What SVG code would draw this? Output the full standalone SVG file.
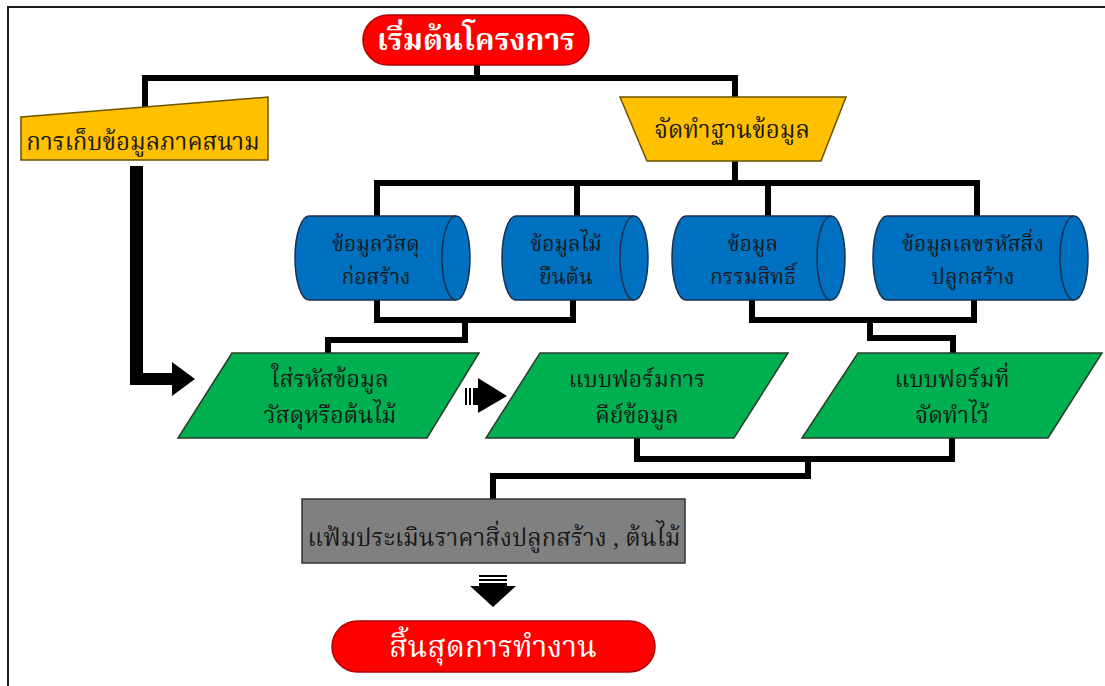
<svg xmlns="http://www.w3.org/2000/svg" width="1105" height="686" viewBox="0 0 1105 686">
<style>
  .t { font-family: "Noto Serif Thai", "Noto Sans Thai", "Liberation Serif", "DejaVu Serif", serif; text-anchor: middle; fill: #1a1a1a; font-size: 24px; }
  .c { font-size: 21px; }
  .p { font-size: 23px; }
  .w { fill: #ffffff; }
  .term { fill: #ff0000; stroke: #b00000; stroke-width: 1.5; }
  .yel { fill: #ffc000; stroke: #6b5300; stroke-width: 1.5; }
  .cyl { fill: #0070c0; stroke: #1c2f4f; stroke-width: 1.5; }
  .cap { fill: none; stroke: #1c2f4f; stroke-width: 1.5; }
  .grn { fill: #00b050; stroke: #2b3b2b; stroke-width: 1.5; }
  .gry { fill: #808080; stroke: #333333; stroke-width: 1.5; }
  .conn path { fill: none; stroke: #000000; stroke-width: 6; stroke-linejoin: miter; stroke-linecap: square; }
  .arr { fill: #000000; }
</style>
<rect width="1105" height="686" fill="#ffffff"/>
<rect x="8" y="7" width="1110" height="700" fill="none" stroke="#1a1a1a" stroke-width="2"/>

<g id="connectors" class="conn">
  <path d="M477 65 V78"/>
  <path d="M145 106 V78 H735 V97"/>
  <path d="M735 161 V183"/>
  <path d="M377 216 V183 H977 V216"/>
  <path d="M577 183 V216"/>
  <path d="M768 183 V216"/>
  <path d="M377 300 V320 H573 V300"/>
  <path d="M465 320 V340 H328 V353"/>
  <path d="M752 300 V320 H974 V300"/>
  <path d="M870 320 V338 H953 V353"/>
  <path d="M637 438 V459 H952 V438"/>
  <path d="M808 459 V476 H493 V499"/>
</g>

<g id="arrows" class="arr">
  <path d="M130 166 H143 V373 H172 V362 L195 379 L172 396 V385 H130 Z"/>
  <rect x="465" y="388" width="2" height="17"/>
  <rect x="469" y="388" width="2" height="17"/>
  <rect x="473" y="388" width="6" height="17"/>
  <polygon points="478,378 507,396 478,413"/>
  <rect x="479" y="575" width="28" height="2"/>
  <rect x="479" y="579" width="28" height="2"/>
  <rect x="479" y="583" width="28" height="4"/>
  <polygon points="470,586 516,586 493,607"/>
</g>

<g id="start">
  <rect class="term" x="363" y="15" width="226" height="50" rx="25"/>
  <text class="t w" x="476" y="50" style="font-size:30px;font-weight:bold">เริ่มต้นโครงการ</text>
</g>

<g id="field">
  <polygon class="yel" points="21,117 268,97 268,160 21,160"/>
  <text class="t" x="143" y="150">การเก็บข้อมูลภาคสนาม</text>
</g>

<g id="database">
  <polygon class="yel" points="620,97 846,97 821,161 647,161"/>
  <text class="t" x="732" y="138">จัดทำฐานข้อมูล</text>
</g>

<g id="cyl1">
  <path class="cyl" d="M309 216 H456 A14 42 0 0 1 456 300 H309 A14 42 0 0 1 309 216 Z"/>
  <path class="cap" d="M456 216 A14 42 0 0 0 456 300"/>
  <text class="t c" x="376" y="251">ข้อมูลวัสดุ</text>
  <text class="t c" x="376" y="284">ก่อสร้าง</text>
</g>

<g id="cyl2">
  <path class="cyl" d="M516 216 H634 A14 42 0 0 1 634 300 H516 A14 42 0 0 1 516 216 Z"/>
  <path class="cap" d="M634 216 A14 42 0 0 0 634 300"/>
  <text class="t c" x="566" y="251">ข้อมูลไม้</text>
  <text class="t c" x="566" y="284">ยืนต้น</text>
</g>

<g id="cyl3">
  <path class="cyl" d="M686 216 H831 A14 42 0 0 1 831 300 H686 A14 42 0 0 1 686 216 Z"/>
  <path class="cap" d="M831 216 A14 42 0 0 0 831 300"/>
  <text class="t c" x="753" y="251">ข้อมูล</text>
  <text class="t c" x="753" y="284">กรรมสิทธิ์</text>
</g>

<g id="cyl4">
  <path class="cyl" d="M887 216 H1074 A14 42 0 0 1 1074 300 H887 A14 42 0 0 1 887 216 Z"/>
  <path class="cap" d="M1074 216 A14 42 0 0 0 1074 300"/>
  <text class="t c" x="973" y="251">ข้อมูลเลขรหัสสิ่ง</text>
  <text class="t c" x="973" y="284">ปลูกสร้าง</text>
</g>

<g id="encode">
  <polygon class="grn" points="232,353 479,353 427,438 178,438"/>
  <text class="t p" x="330" y="387">ใส่รหัสข้อมูล</text>
  <text class="t p" x="330" y="423">วัสดุหรือต้นไม้</text>
</g>

<g id="keyform">
  <polygon class="grn" points="540,353 788,353 734,438 486,438"/>
  <text class="t p" x="637" y="387">แบบฟอร์มการ</text>
  <text class="t p" x="637" y="423">คีย์ข้อมูล</text>
</g>

<g id="preparedform">
  <polygon class="grn" points="858,353 1102,353 1048,438 802,438"/>
  <text class="t p" x="952" y="387">แบบฟอร์มที่</text>
  <text class="t p" x="952" y="423">จัดทำไว้</text>
</g>

<g id="valuation">
  <rect class="gry" x="302" y="499" width="383" height="64"/>
  <text class="t" x="494" y="546">แฟ้มประเมินราคาสิ่งปลูกสร้าง , ต้นไม้</text>
</g>

<g id="end">
  <rect class="term" x="332" y="621" width="323" height="51" rx="25.5"/>
  <text class="t w" x="493" y="657" style="font-size:30px">สิ้นสุดการทำงาน</text>
</g>
</svg>
